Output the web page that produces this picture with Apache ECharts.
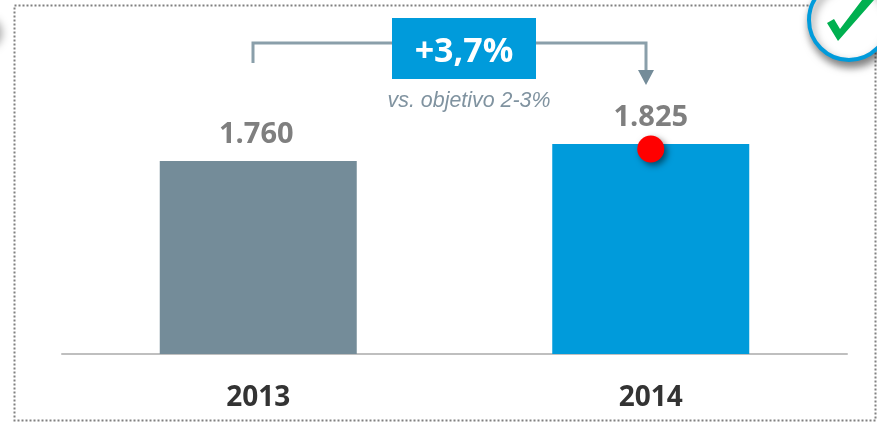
<!DOCTYPE html>
<html><head><meta charset="utf-8">
<style>html,body{margin:0;padding:0;background:#fff}#c{width:877px;height:422px}</style>
<script src="https://cdn.jsdelivr.net/npm/echarts@6/dist/echarts.min.js"></script>
</head><body><div id="c"></div>
<script>
const categories = ['2013', '2014'];
const values = [1760, 1825];
const barColors = ['#748C99', '#009BDB'];
const labelShift = [-2, 0];
const markerYear = ['2014'];
const markerValue = [1806];
const changeLabel = '+3,7%';
const noteLabel = 'vs. objetivo 2-3%';

const chart = echarts.init(document.getElementById('c'), null, {renderer: 'canvas'});
const fmt = v => String(v).replace(/(\d)(\d{3})$/, '$1.$2');
const dotted = {stroke: '#808080', lineWidth: 2, lineDash: [2, 2]};
chart.setOption({
  animation: false,
  grid: {left: 62, right: 30, top: 144, bottom: 68},
  xAxis: {type: 'category', data: categories,
    axisLine: {lineStyle: {color: '#BFBFBF', width: 2}}, axisTick: {show: false},
    axisLabel: {margin: 30, color: '#333333', fontFamily: 'Open Sans', fontWeight: 'bold', fontSize: 28}},
  yAxis: {type: 'value', min: 1022, max: 1825, show: false, splitLine: {show: false}},
  series: [
    {type: 'bar', barWidth: 197, z: 2,
     data: values.map((v, i) => ({value: v, itemStyle: {color: barColors[i]},
       label: {offset: [labelShift[i], 0]}})),
     label: {show: true, position: 'top', distance: 12, formatter: p => fmt(p.value),
       color: '#7F7F7F', fontFamily: 'Open Sans', fontWeight: 'bold', fontSize: 29}},
    {type: 'scatter', symbolSize: 27, z: 5,
     data: markerYear.map((y, i) => [y, markerValue[i]]),
     itemStyle: {color: '#FF0000', opacity: 1, shadowColor: 'rgba(0,0,0,0.5)', shadowBlur: 6, shadowOffsetX: 3, shadowOffsetY: 3}}
  ],
  graphic: [
    {type: 'rect', z: 1, shape: {x: 14.5, y: 5.5, width: 861, height: 415}, style: {fill: 'none', ...dotted}},
    {type: 'polyline', z: 3, shape: {points: [[253, 63], [253, 43], [392, 43]]}, style: {fill: 'none', stroke: '#8A9FAA', lineWidth: 3}},
    {type: 'polyline', z: 3, shape: {points: [[536, 43], [646, 43], [646, 72]]}, style: {fill: 'none', stroke: '#8A9FAA', lineWidth: 3}},
    {type: 'polygon', z: 3, shape: {points: [[638, 70], [654, 70], [646, 85]]}, style: {fill: '#748C99'}},
    {type: 'rect', z: 4, shape: {x: 392, y: 18, width: 144, height: 61}, style: {fill: '#009BDB'}},
    {type: 'text', z: 5, x: 464, y: 52, style: {text: changeLabel, align: 'center', verticalAlign: 'middle', fill: '#fff', font: 'bold 34px "Open Sans"'}},
    {type: 'text', z: 5, x: 469, y: 101, style: {text: noteLabel, align: 'center', verticalAlign: 'middle', fill: '#8093A0', font: 'italic 21.4px "Liberation Sans"'}},
    {type: 'circle', z: 6, shape: {cx: 849, cy: 20, r: 40}, style: {fill: '#fff', stroke: '#009BDB', lineWidth: 4, shadowColor: 'rgba(0,0,0,0.5)', shadowBlur: 8, shadowOffsetX: 2, shadowOffsetY: 5}},
    {type: 'polygon', z: 7, shape: {points: [[827, 23], [834, 19], [840, 29], [862, 0], [874, 0], [838, 41]]}, style: {fill: '#00B050'}},
    {type: 'circle', z: 6, shape: {cx: -16, cy: 32, r: 16}, style: {fill: '#fff', shadowColor: 'rgba(0,0,0,0.35)', shadowBlur: 8, shadowOffsetX: 2, shadowOffsetY: 1}}
  ]
});
</script></body></html>
